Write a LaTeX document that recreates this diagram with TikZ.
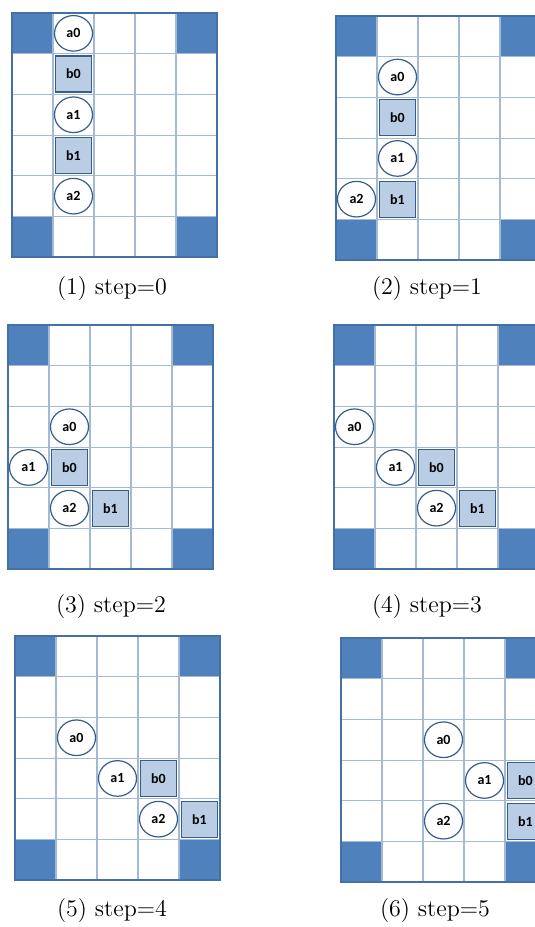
\documentclass[tikz,border=0pt]{standalone}
\usepackage{fontspec}
\newfontfamily\cellfont{Carlito}
\usetikzlibrary{shapes.geometric}
\definecolor{cornerblue}{HTML}{4F81BD}
\definecolor{gridcol}{HTML}{A3B9D6}
\definecolor{framecol}{HTML}{4470A8}
\definecolor{boxfill}{HTML}{B9CDE5}
\definecolor{boxdraw}{HTML}{385D8A}
\tikzset{
  gridline/.style={draw=gridcol, line width=0.55pt},
  frameline/.style={draw=framecol, line width=0.8pt},
  agent/.style={ellipse, draw=boxdraw, fill=white, line width=0.6pt, minimum width=19pt, minimum height=17.8pt, inner sep=0pt, font=\cellfont\bfseries\fontsize{7}{8}\selectfont},
  boxnode/.style={rectangle, draw=boxdraw, fill=boxfill, line width=0.6pt, minimum size=18pt, inner sep=0pt, font=\cellfont\bfseries\fontsize{7}{8}\selectfont},
  caption/.style={font=\fontsize{12}{14}\selectfont, inner sep=0pt}
}
\newcommand{\gridpanel}[3]{%
  \begin{scope}[shift={(#1,#2)}, x=20.5pt, y=-20.35pt]
    \fill[cornerblue] (0,0) rectangle (1,1) (4,0) rectangle (5,1) (0,5) rectangle (1,6) (4,5) rectangle (5,6);
    \foreach \i in {1,...,4} \draw[gridline] (\i,0) -- (\i,6);
    \foreach \j in {1,...,5} \draw[gridline] (0,\j) -- (5,\j);
    \draw[frameline] (0,0) rectangle (5,6);
    #3
  \end{scope}}
\begin{document}
\begin{tikzpicture}[x=0.5pt, y=-0.5pt]
\useasboundingbox (0,0) rectangle (535,927);
\clip (0,0) rectangle (535,927);
% panel 1
\gridpanel{12}{13}{%
  \node[agent] (p1a0) at (1.5,0.5) {a0};
  \node[boxnode] (p1b0) at (1.5,1.5) {b0};
  \node[agent] (p1a1) at (1.5,2.5) {a1};
  \node[boxnode] (p1b1) at (1.5,3.5) {b1};
  \node[agent] (p1a2) at (1.5,4.5) {a2};
}
% panel 2
\gridpanel{336}{16}{%
  \node[agent] (p2a0) at (1.5,1.5) {a0};
  \node[boxnode] (p2b0) at (1.5,2.5) {b0};
  \node[agent] (p2a1) at (1.5,3.5) {a1};
  \node[boxnode] (p2b1) at (1.5,4.5) {b1};
  \node[agent] (p2a2) at (0.5,4.5) {a2};
}
% panel 3
\gridpanel{8}{325}{%
  \node[agent] (p3a0) at (1.5,2.5) {a0};
  \node[agent] (p3a1) at (0.5,3.5) {a1};
  \node[boxnode] (p3b0) at (1.5,3.5) {b0};
  \node[agent] (p3a2) at (1.5,4.5) {a2};
  \node[boxnode] (p3b1) at (2.5,4.5) {b1};
}
% panel 4
\gridpanel{334}{325}{%
  \node[agent] (p4a0) at (0.5,2.5) {a0};
  \node[agent] (p4a1) at (1.5,3.5) {a1};
  \node[boxnode] (p4b0) at (2.5,3.5) {b0};
  \node[agent] (p4a2) at (2.5,4.5) {a2};
  \node[boxnode] (p4b1) at (3.5,4.5) {b1};
}
% panel 5
\gridpanel{15}{636}{%
  \node[agent] (p5a0) at (1.5,2.5) {a0};
  \node[agent] (p5a1) at (2.5,3.5) {a1};
  \node[boxnode] (p5b0) at (3.5,3.5) {b0};
  \node[agent] (p5a2) at (3.5,4.5) {a2};
  \node[boxnode] (p5b1) at (4.5,4.5) {b1};
}
% panel 6
\gridpanel{341}{638}{%
  \node[agent] (p6a0) at (2.5,2.5) {a0};
  \node[agent] (p6a1) at (3.5,3.5) {a1};
  \node[boxnode] (p6b0) at (4.5,3.5) {b0};
  \node[agent] (p6a2) at (2.5,4.5) {a2};
  \node[boxnode] (p6b1) at (4.5,4.5) {b1};
}
% captions
\node[caption] (c1) at (112,289) {(1) step=0};
\node[caption] (c2) at (427,289) {(2) step=1};
\node[caption] (c3) at (111,607) {(3) step=2};
\node[caption] (c4) at (427,607) {(4) step=3};
\node[caption] (c5) at (112,910) {(5) step=4};
\node[caption] (c6) at (435,910) {(6) step=5};
\end{tikzpicture}
\end{document}
